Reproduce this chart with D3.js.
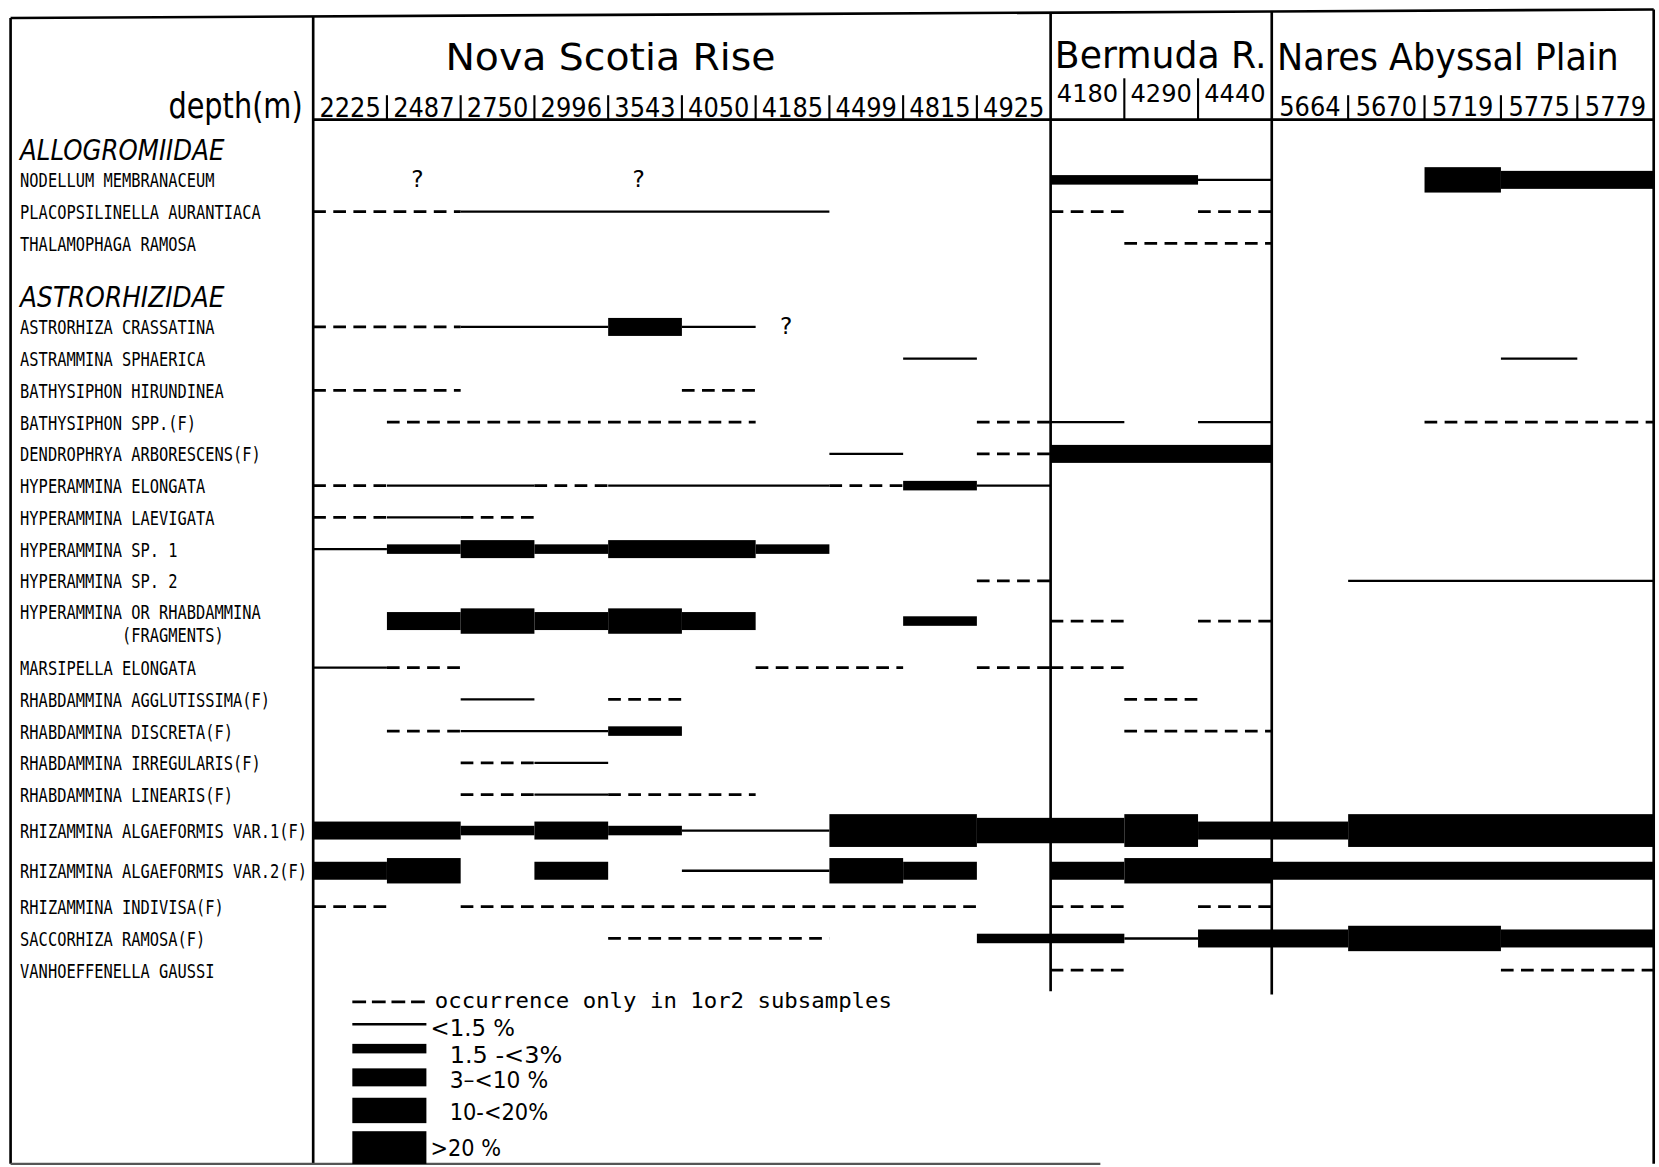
<!DOCTYPE html>
<html><head><meta charset="utf-8">
<script src="https://cdn.jsdelivr.net/npm/d3@7"></script>
<style>
html,body{margin:0;padding:0;background:#fff;}
svg{display:block;}
</style></head><body>
<svg id="chart" width="1659" height="1167" viewBox="0 0 1568 1103"></svg>
<script>
// ---------------- DATA ----------------
const regionNames = ["Nova Scotia Rise", "Bermuda R.", "Nares Abyssal Plain"];
const novaDepths = ["2225","2487","2750","2996","3543","4050","4185","4499","4815","4925"];
const bermudaDepths = ["4180","4290","4440"];
const naresDepths = ["5664","5670","5719","5775","5779"];

const familyNames = ["ALLOGROMIIDAE", "ASTRORHIZIDAE"];

// occurrence codes per sample (Nova | Bermuda | Nares):
// '.' absent, 'd' only in 1 or 2 subsamples, '1' <1.5%, '2' 1.5-<3%, '3' 3-<10%, '4' 10-<20%, '5' >20%
const allogromiidaeSpecies = ["NODELLUM MEMBRANACEUM", "PLACOPSILINELLA AURANTIACA", "THALAMOPHAGA RAMOSA"];
const allogromiidaeOccurrence = [
  ".......... 221 ..433",
  "dd11111... d.d .....",
  ".......... .dd ....."
];

const astrorhizidaeSpecies = [
  "ASTRORHIZA CRASSATINA",
  "ASTRAMMINA SPHAERICA",
  "BATHYSIPHON HIRUNDINEA",
  "BATHYSIPHON SPP.(F)",
  "DENDROPHRYA ARBORESCENS(F)",
  "HYPERAMMINA ELONGATA",
  "HYPERAMMINA LAEVIGATA",
  "HYPERAMMINA SP. 1",
  "HYPERAMMINA SP. 2",
  "HYPERAMMINA OR RHABDAMMINA|           (FRAGMENTS)",
  "MARSIPELLA ELONGATA",
  "RHABDAMMINA AGGLUTISSIMA(F)",
  "RHABDAMMINA DISCRETA(F)",
  "RHABDAMMINA IRREGULARIS(F)",
  "RHABDAMMINA LINEARIS(F)",
  "RHIZAMMINA ALGAEFORMIS VAR.1(F)",
  "RHIZAMMINA ALGAEFORMIS VAR.2(F)",
  "RHIZAMMINA INDIVISA(F)",
  "SACCORHIZA RAMOSA(F)",
  "VANHOEFFENELLA GAUSSI"
];
const astrorhizidaeOccurrence = [
  "dd1131.... ... .....",
  "........1. ... ...1.",
  "dd...d.... ... .....",
  ".ddddd...d 1.1 ..ddd",
  ".......1.d 333 .....",
  "d11d111d21 ... .....",
  "d1d....... ... .....",
  "1232332... ... .....",
  ".........d ... .1111",
  ".34343..2. d.d .....",
  "1d....dd.d d.. .....",
  "..1.d..... .d. .....",
  ".d112..... .dd .....",
  "..d1...... ... .....",
  "..d1dd.... ... .....",
  "3323211554 453 35555",
  "34.3.1143. 344 33333",
  "d.ddddddd. d.d .....",
  "....ddd..2 213 34433",
  ".......... d.. ...dd"
];

// uncertain occurrences marked "?"
const querySpecies = ["NODELLUM MEMBRANACEUM", "NODELLUM MEMBRANACEUM", "ASTRORHIZA CRASSATINA"];
const queryDepths = ["2487", "3543", "4185"];

const legendCodes = ["d", "1", "2", "3", "4", "5"];
const legendLabels = ["occurrence only in 1or2 subsamples", "<1.5 %", "1.5 -<3%", "3\u2013<10 %", "10-<20%", ">20 %"];

// ---------------- LAYOUT ----------------
const svg = d3.select("#chart");
svg.append("rect").attr("width", 1568).attr("height", 1103).attr("fill", "#fff");

const frame = {left: 10, labelRight: 296, right: 1563, headerBottom: 113, bottom: 1100};
const topY = x => 17 - 8 * (x - frame.left) / (frame.right - frame.left);

const regions = [
  {name: regionNames[0], depths: novaDepths, x0: 296, x1: 993, titleOff: 125, titleLen: 312, titleY: 66, labelY: 111, labelSize: 25, sepTop: 90},
  {name: regionNames[1], depths: bermudaDepths, x0: 993, x1: 1202, titleOff: 4, titleLen: 200, titleY: 64, labelY: 96, labelSize: 24, sepTop: 74},
  {name: regionNames[2], depths: naresDepths, x0: 1202, x1: 1563, titleOff: 5, titleLen: 323, titleY: 66, labelY: 110, labelSize: 25, sepTop: 90}
];
regions.forEach(r => {
  r.x = d3.scaleBand().domain(r.depths).range([r.x0, r.x1]).paddingInner(0).paddingOuter(0);
});

// rows
const rows = [];
familyNames.forEach((f, fi) => {
  rows.push({type: "family", name: f});
  const names = fi === 0 ? allogromiidaeSpecies : astrorhizidaeSpecies;
  const occ = fi === 0 ? allogromiidaeOccurrence : astrorhizidaeOccurrence;
  names.forEach((n, i) => {
    const lines = n.split("|");
    rows.push({type: "species", name: lines[0].trim(), lines: lines, codes: occ[i]});
  });
});
const heavy = r => r.type === "species" && r.codes.replace(/ /g, "").split("").filter(c => c >= "4" && c <= "5").length >= 3;
let yc = 141;
rows.forEach((r, i) => {
  if (i > 0) {
    const p = rows[i - 1];
    let step = 30;
    if (r.type === "family") step = 50;
    else if (p.type === "family") step = 29;
    if (r.type === "species" && r.lines.length > 1) step += 8;
    if (p.type === "species" && p.lines.length > 1) step += 14;
    if (heavy(p)) step += 4;
    if (heavy(r)) step += 4;
    yc += step;
  }
  r.y = yc;
});
const rowY = {};
rows.forEach(r => { if (r.type === "species") rowY[r.name] = r.y; });

// ---------------- FRAME ----------------
const lineG = svg.append("g").attr("stroke", "#000").attr("fill", "none");
lineG.append("line").attr("x1", frame.left).attr("x2", frame.right)
  .attr("y1", topY(frame.left)).attr("y2", topY(frame.right)).attr("stroke-width", 2.5);
[[frame.left, frame.bottom], [frame.labelRight, frame.bottom], [993, 937], [1202, 940], [frame.right, frame.bottom]]
  .forEach(([x, yb]) => {
    lineG.append("line").attr("x1", x).attr("x2", x).attr("y1", topY(x)).attr("y2", yb).attr("stroke-width", 2.5);
  });
lineG.append("line").attr("x1", frame.labelRight).attr("x2", frame.right)
  .attr("y1", frame.headerBottom).attr("y2", frame.headerBottom).attr("stroke-width", 2.5);
lineG.append("line").attr("x1", frame.left).attr("x2", 1040)
  .attr("y1", frame.bottom).attr("y2", frame.bottom).attr("stroke-width", 2).attr("stroke", "#555");

// ---------------- HEADER ----------------
const sans = "'DejaVu Sans', 'Liberation Sans', sans-serif";
const mono = "'DejaVu Sans Mono', 'Liberation Mono', monospace";

regions.forEach(r => {
  svg.append("text").text(r.name)
    .attr("x", r.x0 + r.titleOff).attr("y", r.titleY)
    .attr("font-family", sans).attr("font-size", 36)
    .attr("textLength", r.titleLen).attr("lengthAdjust", "spacingAndGlyphs");

  const ax = svg.append("g").attr("transform", `translate(0,${r.labelY})`)
    .call(d3.axisTop(r.x).tickSize(0).tickPadding(0));
  ax.select(".domain").remove();
  ax.selectAll("text").attr("font-family", sans).attr("font-size", r.labelSize).attr("fill", "#000")
    .attr("textLength", 58).attr("lengthAdjust", "spacingAndGlyphs");

  r.depths.slice(1).forEach(d => {
    lineG.append("line").attr("x1", r.x(d)).attr("x2", r.x(d))
      .attr("y1", r.sepTop).attr("y2", frame.headerBottom).attr("stroke-width", 2);
  });
});

svg.append("text").text("depth(m)")
  .attr("transform", "translate(286,112) scale(0.8,1)")
  .attr("text-anchor", "end")
  .attr("font-family", sans).attr("font-size", 34);

// ---------------- ROW LABELS ----------------
const charW = 8.75;
rows.forEach(r => {
  if (r.type === "family") {
    svg.append("text").text(r.name)
      .attr("x", 19).attr("y", r.y + 10)
      .attr("font-family", sans).attr("font-style", "italic").attr("font-size", 27)
      .attr("textLength", r.name.length * 14.85).attr("lengthAdjust", "spacingAndGlyphs");
  } else {
    r.lines.forEach((ln, li) => {
      const indent = ln.length - ln.trimStart().length;
      const t = ln.trim();
      const baseY = r.lines.length > 1 ? r.y - 2 + li * 22 : r.y + 7;
      svg.append("text").text(t)
        .attr("x", 19 + indent * charW).attr("y", baseY)
        .attr("font-family", mono).attr("font-size", 18)
        .attr("textLength", t.length * charW).attr("lengthAdjust", "spacingAndGlyphs");
    });
  }
});

// ---------------- OCCURRENCE MARKS ----------------
const thickness = d3.scaleOrdinal().domain(["2", "3", "4", "5"]).range([9, 17, 24, 31]);
const segs = [];
rows.filter(r => r.type === "species").forEach(r => {
  const groups = r.codes.split(" ");
  regions.forEach((reg, ri) => {
    const cells = groups[ri].split("");
    let i = 0;
    while (i < cells.length) {
      const c = cells[i];
      if (c === ".") { i++; continue; }
      let j = i;
      while (j + 1 < cells.length && cells[j + 1] === c) j++;
      segs.push({y: r.y, code: c,
        x0: reg.x(reg.depths[i]), x1: reg.x(reg.depths[j]) + reg.x.bandwidth()});
      i = j + 1;
    }
  });
});

const markG = svg.append("g");
function drawMark(g, code, x0, x1, y, dash) {
  if (code === "d") {
    g.append("line").attr("x1", x0).attr("x2", x1).attr("y1", y).attr("y2", y)
      .attr("stroke", "#000").attr("stroke-width", 2.6).attr("stroke-dasharray", dash);
  } else if (code === "1") {
    g.append("line").attr("x1", x0).attr("x2", x1).attr("y1", y).attr("y2", y)
      .attr("stroke", "#000").attr("stroke-width", 2.2);
  } else {
    const h = thickness(code);
    g.append("rect").attr("x", x0).attr("width", x1 - x0)
      .attr("y", y - h / 2).attr("height", h).attr("fill", "#000");
  }
}
// thin/dashed first, thick on top
segs.filter(s => s.code === "d" || s.code === "1").forEach(s => drawMark(markG, s.code, s.x0, s.x1, s.y, "12,7"));
segs.filter(s => s.code !== "d" && s.code !== "1").forEach(s => drawMark(markG, s.code, s.x0, s.x1, s.y, "12,7"));

// question marks
querySpecies.forEach((sp, i) => {
  const reg = regions[0];
  svg.append("text").text("?")
    .attr("x", reg.x(queryDepths[i]) + reg.x.bandwidth() / 2 - 6)
    .attr("y", rowY[sp] + 7)
    .attr("text-anchor", "middle")
    .attr("font-family", sans).attr("font-size", 22);
});

// ---------------- LEGEND ----------------
const legendG = svg.append("g");
const lgX0 = 333, lgX1 = 403;
const hOf = c => (c === "d" || c === "1") ? 2 : thickness(c);
const textDy = {d: 6, "1": 11, "2": 14, "3": 10, "4": 9, "5": 8};
let ly = 947;
legendCodes.forEach((c, i) => {
  if (i > 0) ly += 20 + 0.55 * (hOf(legendCodes[i - 1]) + hOf(c)) / 2;
  drawMark(legendG, c, lgX0, lgX1, ly, "13,5.5");
  const lab = legendLabels[i];
  const startsDigit = /^[0-9]/.test(lab);
  const t = legendG.append("text").text(lab)
    .attr("x", startsDigit ? lgX1 + 22 : lgX1 + (c === "d" ? 8 : 4))
    .attr("y", ly + textDy[c]);
  if (c === "d") {
    t.attr("font-family", mono).attr("font-size", 20)
      .attr("textLength", 432).attr("lengthAdjust", "spacingAndGlyphs");
  } else {
    t.attr("font-family", sans).attr("font-size", 22)
      .attr("textLength", lab.length * 13.3).attr("lengthAdjust", "spacingAndGlyphs");
  }
});
</script>
</body></html>
